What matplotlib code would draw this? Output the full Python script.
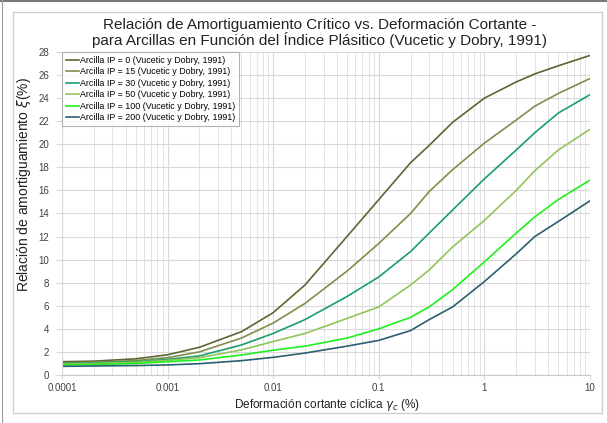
import numpy as np
import matplotlib.pyplot as plt
from matplotlib.patches import Rectangle
from matplotlib.lines import Line2D

plt.rcParams['font.family'] = ['Liberation Sans', 'DejaVu Sans']

gamma = [0.0001, 0.0002, 0.0005, 0.001, 0.002, 0.005, 0.01, 0.02, 0.05,
         0.1, 0.2, 0.3, 0.5, 1, 2, 3, 5, 10]
ip0 = [1.15, 1.2, 1.4, 1.75, 2.4, 3.75, 5.4, 7.8, 12.0, 15.2, 18.4, 19.9, 21.9, 24.0, 25.4, 26.1, 26.8, 27.7]
ip15 = [1.05, 1.1, 1.25, 1.5, 2.0, 3.2, 4.5, 6.2, 9.0, 11.4, 14.0, 15.9, 17.8, 20.1, 22.1, 23.3, 24.4, 25.7]
ip30 = [1.0, 1.05, 1.15, 1.35, 1.65, 2.6, 3.6, 4.8, 6.8, 8.5, 10.7, 12.3, 14.3, 17.0, 19.5, 21.0, 22.7, 24.3]
ip50 = [0.95, 1.0, 1.1, 1.27, 1.5, 2.17, 2.9, 3.6, 4.9, 5.9, 7.8, 9.1, 11.1, 13.4, 16.0, 17.7, 19.5, 21.3]
ip100 = [0.87, 0.9, 1.0, 1.15, 1.3, 1.73, 2.15, 2.5, 3.2, 4.0, 5.0, 5.9, 7.4, 9.8, 12.3, 13.7, 15.2, 16.9]
ip200 = [0.75, 0.78, 0.82, 0.87, 0.98, 1.24, 1.53, 1.9, 2.5, 3.0, 3.85, 4.8, 5.9, 8.1, 10.5, 12.0, 13.3, 15.1]

labels = ['Arcilla IP = 0 (Vucetic y Dobry, 1991)',
          'Arcilla IP = 15 (Vucetic y Dobry, 1991)',
          'Arcilla IP = 30 (Vucetic y Dobry, 1991)',
          'Arcilla IP = 50 (Vucetic y Dobry, 1991)',
          'Arcilla IP = 100 (Vucetic y Dobry, 1991)',
          'Arcilla IP = 200 (Vucetic y Dobry, 1991)']
colors = ['#5b6632', '#7f8f48', '#1a9e6a', '#92c45a', '#1ef01e', '#2c5f6f']
series = [ip0, ip15, ip30, ip50, ip100, ip200]

fig = plt.figure(figsize=(6.07, 4.23), dpi=100)
# screenshot border (top and left) and chart box
fig.lines.append(Line2D([0, 1], [0.998, 0.998], transform=fig.transFigure, color='#7a7a7a', lw=1.5))
fig.lines.append(Line2D([0.004, 0.004], [0, 1], transform=fig.transFigure, color='#9a9a9a', lw=0.8))
fig.patches.append(Rectangle((0.0214, 0.0236), 0.970, 0.948, transform=fig.transFigure,
                             fill=False, edgecolor='#cfcfcf', lw=1.0))

ax = fig.add_axes([0.102, 0.1135, 0.870, 0.7636])
for y, lab, c in zip(series, labels, colors):
    ax.plot(gamma, y, color=c, lw=1.2, label=lab)

ax.set_xscale('log')
ax.set_xlim(0.0001, 10)
ax.set_ylim(0, 28)
ax.set_yticks(np.arange(0, 29, 2))
ax.set_xticks([0.0001, 0.001, 0.01, 0.1, 1, 10])
ax.set_xticklabels(['0.0001', '0.001', '0.01', '0.1', '1', '10'])
ax.grid(True, which='major', color='#d9d9d9', lw=0.8)
ax.grid(True, which='minor', axis='x', color='#e3e3e3', lw=0.7)
ax.set_axisbelow(True)
ax.tick_params(axis='y', length=4, color='#d9d9d9', labelsize=7, labelcolor='#404040', pad=5)
ax.tick_params(axis='x', which='major', length=3, color='#d9d9d9', labelsize=7,
               labelcolor='#404040', pad=3)
ax.tick_params(axis='x', which='minor', length=0)
for s in ['top', 'right']:
    ax.spines[s].set_visible(False)
ax.spines['left'].set_color('#d9d9d9')
ax.spines['bottom'].set_color('#c8c8c8')

fig.text(0.527, 0.922,
         'Relación de Amortiguamiento Crítico vs. Deformación Cortante -\n'
         'para Arcillas en Función del Índice Plásitico (Vucetic y Dobry, 1991)',
         ha='center', va='center', fontsize=11, color='#222222', linespacing=1.05)
ax.set_xlabel(r'Deformación cortante cíclica $\gamma_c$ (%)', fontsize=8.5, color='#222222')
ax.xaxis.set_label_coords(0.502, -0.068)
ax.set_ylabel(r'Relación de amortiguamiento $\xi$(%)', fontsize=10, color='#222222')
ax.yaxis.set_label_coords(-0.055, 0.59)

leg = ax.legend(loc='upper left', fontsize=6.4, frameon=True, fancybox=False,
                handlelength=1.5, handletextpad=0.1, borderpad=0.45, labelspacing=0.28,
                borderaxespad=0.0)
leg.get_frame().set_edgecolor('#a0a0a0')
leg.get_frame().set_linewidth(0.8)

fig.savefig('out.png', dpi=100)
